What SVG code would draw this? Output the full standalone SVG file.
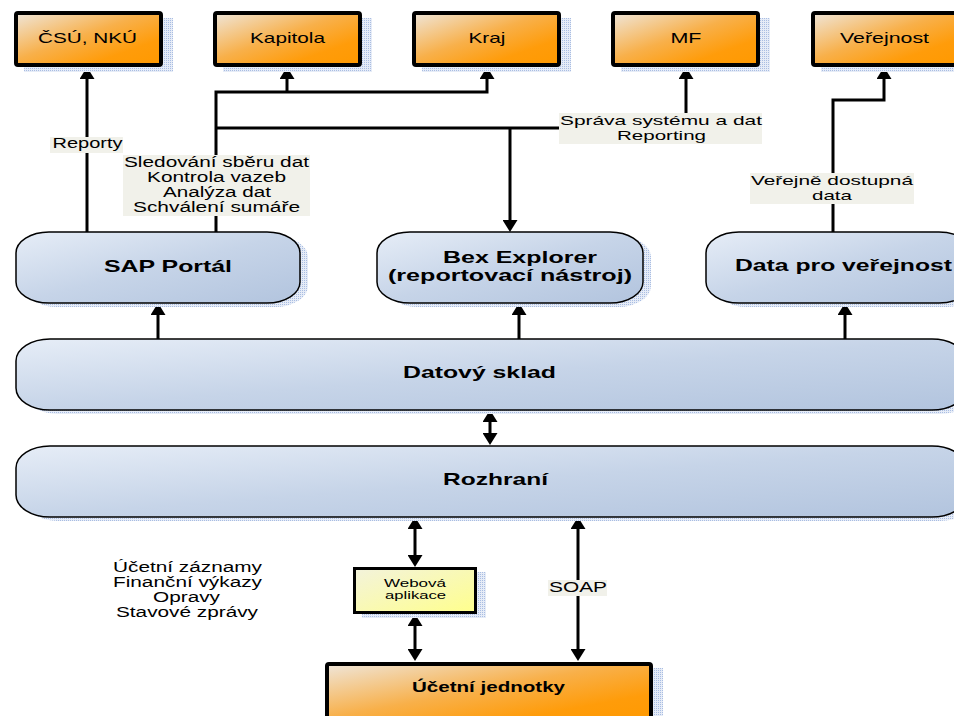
<svg xmlns="http://www.w3.org/2000/svg" width="954" height="716" viewBox="0 0 954 716">
<style>
text{font-family:"Liberation Sans",Arial,sans-serif;fill:#000}
.t{font-size:15px;text-anchor:middle}
.b{font-size:17px;font-weight:bold;text-anchor:middle}
.l{font-size:14px;text-anchor:middle}
.s{font-size:13px;text-anchor:middle}
.orange{fill:url(#gO);stroke:#000;stroke-width:4}
.blue{fill:url(#gB);stroke:#000;stroke-width:1.5}
.yellow{fill:url(#gY);stroke:#000;stroke-width:3}
.sh{fill:url(#dots)}
.lbl{fill:#f1f1ea}
.c{fill:none;stroke:#000;stroke-width:3}
.a{marker-end:url(#ah)}
.d{marker-start:url(#ah);marker-end:url(#ah)}
</style>
<defs>
<linearGradient id="gO" x1="0" y1="0" x2="1" y2="1">
<stop offset="0" stop-color="#efe6da"/>
<stop offset="0.45" stop-color="#f8b04a"/>
<stop offset="0.75" stop-color="#ff9c0a"/>
<stop offset="1" stop-color="#ff9900"/>
</linearGradient>
<linearGradient id="gB" x1="0" y1="0" x2="1" y2="1">
<stop offset="0" stop-color="#e6edf7"/>
<stop offset="0.5" stop-color="#c6d4e8"/>
<stop offset="1" stop-color="#b2c4de"/>
</linearGradient>
<linearGradient id="gY" x1="0" y1="0" x2="1" y2="1">
<stop offset="0" stop-color="#f3f3dc"/>
<stop offset="1" stop-color="#ffff8c"/>
</linearGradient>
<pattern id="dots" width="2" height="2" patternUnits="userSpaceOnUse">
<rect width="2" height="2" fill="#e6ecf7"/>
<rect width="1" height="1" fill="#a9bde2"/>
</pattern>
<marker id="ah" viewBox="0 0 12 15" refX="2" refY="7.5" markerWidth="12" markerHeight="15" markerUnits="userSpaceOnUse" orient="auto-start-reverse">
<path d="M0,0 L12,7.5 L0,15 Z" fill="#000"/>
</marker>
</defs>

<g id="connectors">
<path class="c a" d="M87,232 V77"/>
<path class="c a" d="M216,232 V92 H487 V77"/>
<path class="c a" d="M287,92 V77"/>
<path class="c" d="M216,128 H560"/>
<path class="c a" d="M510,128 V222"/>
<path class="c a" d="M686,114 V77"/>
<path class="c a" d="M833,232 V100 H884 V77"/>
<path class="c a" d="M158,340 V313"/>
<path class="c a" d="M519,340 V313"/>
<path class="c a" d="M845,340 V313"/>
<path class="c d" d="M490,420 V435"/>
<path class="c d" d="M415,527 V557"/>
<path class="c d" d="M415,624 V651"/>
<path class="c d" d="M578,527 V651"/>
<rect class="lbl" x="50" y="137" width="73" height="16"/>
<text class="l" x="87.5" y="148" textLength="70" lengthAdjust="spacingAndGlyphs">Reporty</text>
<rect class="lbl" x="123" y="155" width="187" height="61"/>
<text class="l" x="216.5" y="167" textLength="185" lengthAdjust="spacingAndGlyphs">Sledování sběru dat</text>
<text class="l" x="216.5" y="182" textLength="139" lengthAdjust="spacingAndGlyphs">Kontrola vazeb</text>
<text class="l" x="217" y="197" textLength="108" lengthAdjust="spacingAndGlyphs">Analýza dat</text>
<text class="l" x="216.5" y="212" textLength="167" lengthAdjust="spacingAndGlyphs">Schválení sumáře</text>
<rect class="lbl" x="559" y="113" width="203" height="31"/>
<text class="s" x="661" y="125" textLength="202" lengthAdjust="spacingAndGlyphs">Správa systému a dat</text>
<text class="s" x="661.5" y="140" textLength="89" lengthAdjust="spacingAndGlyphs">Reporting</text>
<rect class="lbl" x="750" y="173" width="164" height="31"/>
<text class="s" x="832" y="185" textLength="162" lengthAdjust="spacingAndGlyphs">Veřejně dostupná</text>
<text class="s" x="832" y="200" textLength="40" lengthAdjust="spacingAndGlyphs">data</text>
<rect class="lbl" x="548" y="580" width="59" height="16"/>
<text class="l" x="578" y="592" textLength="58" lengthAdjust="spacingAndGlyphs">SOAP</text>
</g>

<g id="csu">
<rect class="sh" x="24" y="18" width="149" height="54"/>
<rect class="orange" x="16" y="13" width="145" height="52" rx="2"/>
<text class="t" x="87.5" y="43" textLength="99" lengthAdjust="spacingAndGlyphs">ČSÚ, NKÚ</text>
</g>
<g id="kapitola">
<rect class="sh" x="223" y="18" width="149" height="54"/>
<rect class="orange" x="215" y="13" width="145" height="52" rx="2"/>
<text class="t" x="287.5" y="43" textLength="75" lengthAdjust="spacingAndGlyphs">Kapitola</text>
</g>
<g id="kraj">
<rect class="sh" x="422" y="18" width="149" height="54"/>
<rect class="orange" x="414" y="13" width="145" height="52" rx="2"/>
<text class="t" x="487" y="43" textLength="37" lengthAdjust="spacingAndGlyphs">Kraj</text>
</g>
<g id="mf">
<rect class="sh" x="621" y="18" width="149" height="54"/>
<rect class="orange" x="613" y="13" width="145" height="52" rx="2"/>
<text class="t" x="686" y="43" textLength="31" lengthAdjust="spacingAndGlyphs">MF</text>
</g>
<g id="verejnost">
<rect class="sh" x="821" y="18" width="149" height="54"/>
<rect class="orange" x="813" y="13" width="145" height="52" rx="2"/>
<text class="t" x="884.5" y="43" textLength="89" lengthAdjust="spacingAndGlyphs">Veřejnost</text>
</g>

<g id="sap">
<rect class="sh" x="24" y="236" width="284" height="71" rx="33" ry="21"/>
<rect class="blue" x="16" y="232" width="284" height="71" rx="33" ry="21"/>
<text class="b" x="168" y="272" textLength="128" lengthAdjust="spacingAndGlyphs">SAP Portál</text>
</g>
<g id="bex">
<rect class="sh" x="385" y="236" width="266" height="71" rx="33" ry="21"/>
<rect class="blue" x="377" y="232" width="266" height="71" rx="33" ry="21"/>
<text class="b" x="520" y="263" textLength="154" lengthAdjust="spacingAndGlyphs">Bex Explorer</text>
<text class="b" x="510" y="281" textLength="244" lengthAdjust="spacingAndGlyphs">(reportovací nástroj)</text>
</g>
<g id="data">
<rect class="sh" x="714" y="236" width="266" height="71" rx="33" ry="21"/>
<rect class="blue" x="706" y="232" width="266" height="71" rx="33" ry="21"/>
<text class="b" x="735" y="271" style="text-anchor:start" textLength="217" lengthAdjust="spacingAndGlyphs">Data pro veřejnost</text>
</g>
<g id="sklad">
<rect class="sh" x="24" y="343" width="950" height="71" rx="34" ry="22"/>
<rect class="blue" x="16" y="339" width="950" height="71" rx="34" ry="22"/>
<text class="b" x="479.5" y="378" textLength="153" lengthAdjust="spacingAndGlyphs">Datový sklad</text>
</g>
<g id="rozhrani">
<rect class="sh" x="24" y="450" width="950" height="71" rx="34" ry="22"/>
<rect class="blue" x="16" y="446" width="950" height="71" rx="34" ry="22"/>
<text class="b" x="495.5" y="485" textLength="105" lengthAdjust="spacingAndGlyphs">Rozhraní</text>
</g>
<g id="webova">
<rect class="sh" x="362" y="572" width="124" height="46"/>
<rect class="yellow" x="354.5" y="568.5" width="121" height="44"/>
<text x="415" y="587" style="font-size:11px;text-anchor:middle" textLength="62" lengthAdjust="spacingAndGlyphs">Webová</text>
<text x="415.5" y="599" style="font-size:11px;text-anchor:middle" textLength="61" lengthAdjust="spacingAndGlyphs">aplikace</text>
</g>
<g id="ucetni">
<rect class="sh" x="335" y="668" width="328" height="60"/>
<rect class="orange" x="327" y="664" width="324" height="60" rx="2"/>
<text class="b" x="488.5" y="692" style="font-size:15px" textLength="153" lengthAdjust="spacingAndGlyphs">Účetní jednotky</text>
</g>
<g id="seznam">
<text class="l" x="187.5" y="572" textLength="149" lengthAdjust="spacingAndGlyphs">Účetní záznamy</text>
<text class="l" x="187.5" y="587" textLength="149" lengthAdjust="spacingAndGlyphs">Finanční výkazy</text>
<text class="l" x="186.5" y="602" textLength="67" lengthAdjust="spacingAndGlyphs">Opravy</text>
<text class="l" x="187" y="617" textLength="142" lengthAdjust="spacingAndGlyphs">Stavové zprávy</text>
</g>
</svg>
